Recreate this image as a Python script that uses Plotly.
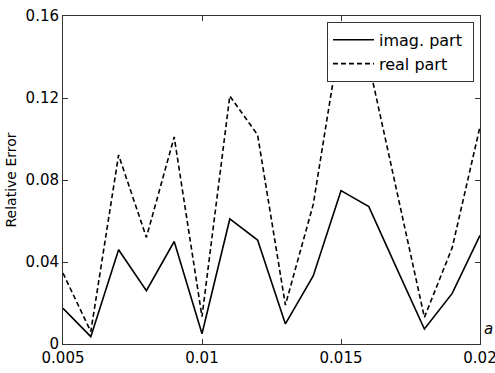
import plotly.graph_objects as go

x_vals = [0.005, 0.006, 0.007, 0.008, 0.009, 0.010, 0.011, 0.012,
          0.013, 0.014, 0.015, 0.016, 0.017, 0.018, 0.019, 0.020]
imag_part = [0.0174, 0.0036, 0.046, 0.026, 0.050, 0.005, 0.061, 0.0507,
             0.0098, 0.0332, 0.0748, 0.067, 0.037, 0.0073, 0.0247, 0.053]
real_part = [0.0346, 0.006, 0.0922, 0.052, 0.101, 0.0133, 0.121, 0.102,
             0.019, 0.068, 0.152, 0.137, 0.075, 0.013, 0.047, 0.106]

series_names = ["imag. part", "real part"]
x_ticks = [0.005, 0.01, 0.015, 0.02]
x_ticklabels = ["0.005", "0.01", "0.015", "0.02"]
y_ticks = [0, 0.04, 0.08, 0.12, 0.16]
y_ticklabels = ["0", "0.04", "0.08", "0.12", "0.16"]

pad = "\u00a0"
fig = go.Figure()
fig.add_trace(go.Scatter(x=x_vals, y=imag_part, mode="lines", name=series_names[0] + pad,
                         line=dict(color="black", width=1.6)))
fig.add_trace(go.Scatter(x=x_vals, y=real_part, mode="lines", name=series_names[1] + pad,
                         line=dict(color="black", width=1.6, dash="5px,3px")))

font = "DejaVu Sans, Verdana, sans-serif"
axis_common = dict(showgrid=False, zeroline=False, showline=True, linecolor="#333",
                   linewidth=1, mirror="allticks", ticks="inside", ticklen=5,
                   tickcolor="#333", ticklabeloverflow="allow", automargin=False,
                   tickfont=dict(family=font, size=15, color="black"))

fig.update_layout(
    width=495, height=373,
    margin=dict(l=63, r=15, t=16, b=29),
    paper_bgcolor="white", plot_bgcolor="white",
    showlegend=True,
    legend=dict(x=0.9856, xanchor="right", y=0.982, yanchor="top",
                bordercolor="#333", borderwidth=1, bgcolor="white",
                font=dict(family=font, size=16, color="black"),
                tracegroupgap=0, itemwidth=41),
    xaxis=dict(range=[0.005, 0.02], tickvals=x_ticks, ticktext=x_ticklabels,
               **axis_common),
    yaxis=dict(range=[0, 0.16], tickvals=y_ticks, ticktext=y_ticklabels,
               title=dict(text="Relative Error", standoff=5,
                          font=dict(family=font, size=14, color="black")),
               **axis_common),
)
fig.add_annotation(text="<i>a</i>", xref="paper", yref="paper", x=1.004, y=0.046,
                   xanchor="left", yanchor="middle", showarrow=False,
                   font=dict(family=font, size=15, color="black"))

fig.write_html("out.html")
